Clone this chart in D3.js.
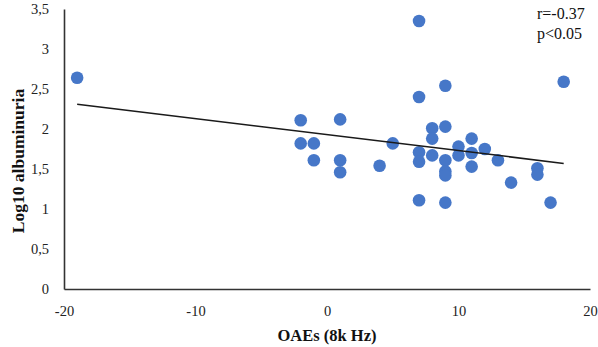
<!DOCTYPE html>
<html>
<head>
<meta charset="utf-8">
<script src="https://cdn.jsdelivr.net/npm/d3@7"></script>
<style>
  body { margin: 0; background: #fff; }
  text { font-family: "Liberation Serif", "Times New Roman", serif; }
</style>
</head>
<body>
<div id="chart"></div>
<script>
// OAEs (8k Hz) vs Log10 albuminuria
const oaes = [-19, -2, -2, -1, -1, 1, 1, 1, 4, 5,
              7, 7, 7, 7, 7, 8, 8, 8, 9, 9,
              9, 9, 9, 9, 10, 10, 11, 11, 11, 12,
              13, 14, 16, 16, 17, 18]
const albuminuria = [2.64, 2.11, 1.82, 1.82, 1.61, 2.12, 1.61, 1.46, 1.54, 1.82,
                     3.35, 2.40, 1.71, 1.59, 1.11, 2.01, 1.88, 1.67, 2.54, 2.03,
                     1.61, 1.47, 1.42, 1.08, 1.78, 1.67, 1.88, 1.70, 1.53, 1.75,
                     1.61, 1.33, 1.51, 1.43, 1.08, 2.59]

// linear trend line end points
const trendX = [-19, 18]
const trendY = [2.31, 1.57]

const xTicks = [-20, -10, 0, 10, 20]
const yTicks = [0, 0.5, 1, 1.5, 2, 2.5, 3, 3.5]
const notes = ["r=-0.37", "p<0.05"]

const config = {
    svgWidth: 598,
    svgHeight: 347,
    left: 64,
    right: 590,
    top: 9,
    bottom: 289,
    radius: 6.3,
    dotColor: "#4677c8"
}

const x = d3.scaleLinear().domain([-20, 20]).range([config.left, config.right])
const y = d3.scaleLinear().domain([0, 3.5]).range([config.bottom, config.top])
// plain hyphen for negatives, comma for decimals (as in the original)
const fmt = d => String(d).replace(".", ",")

const svg = d3.select('#chart')
    .append("svg")
    .attr("width", config.svgWidth)
    .attr("height", config.svgHeight)

// axes
const xAxis = svg.append("g")
    .attr("transform", `translate(0,${config.bottom})`)
    .call(d3.axisBottom(x).tickValues(xTicks).tickFormat(fmt).tickSize(0).tickPadding(17))
const yAxis = svg.append("g")
    .attr("transform", `translate(${config.left},0)`)
    .call(d3.axisLeft(y).tickValues(yTicks).tickFormat(fmt).tickSize(0).tickPadding(15))

;[xAxis, yAxis].forEach(a => {
    a.select(".domain").attr("stroke", "#333").attr("stroke-width", 1.6)
    a.selectAll("text").attr("font-size", 14.5).attr("fill", "#222")
        .attr("font-family", "Liberation Serif, serif")
})

// points
svg.append("g")
    .selectAll("circle")
    .data(oaes)
    .enter()
    .append("circle")
    .attr("cx", d => x(d))
    .attr("cy", (d, i) => y(albuminuria[i]))
    .attr("r", config.radius)
    .attr("fill", config.dotColor)

// trend line
svg.append("line")
    .attr("x1", x(trendX[0]))
    .attr("y1", y(trendY[0]))
    .attr("x2", x(trendX[1]))
    .attr("y2", y(trendY[1]))
    .attr("stroke", "#1a1a1a")
    .attr("stroke-width", 1.5)

// axis titles
svg.append("text")
    .attr("x", 327)
    .attr("y", 341)
    .attr("text-anchor", "middle")
    .attr("font-size", 16.5)
    .attr("font-weight", "bold")
    .attr("fill", "#111")
    .text("OAEs (8k Hz)")

svg.append("text")
    .attr("transform", "translate(24,161) rotate(-90)")
    .attr("text-anchor", "middle")
    .attr("font-size", 17.5)
    .attr("font-weight", "bold")
    .attr("fill", "#111")
    .text("Log10 albuminuria")

// correlation note
svg.append("g")
    .selectAll("text")
    .data(notes)
    .enter()
    .append("text")
    .attr("x", 537)
    .attr("y", (d, i) => 19 + i * 20)
    .attr("font-size", 16)
    .attr("fill", "#111")
    .text(d => d)
</script>
</body>
</html>
